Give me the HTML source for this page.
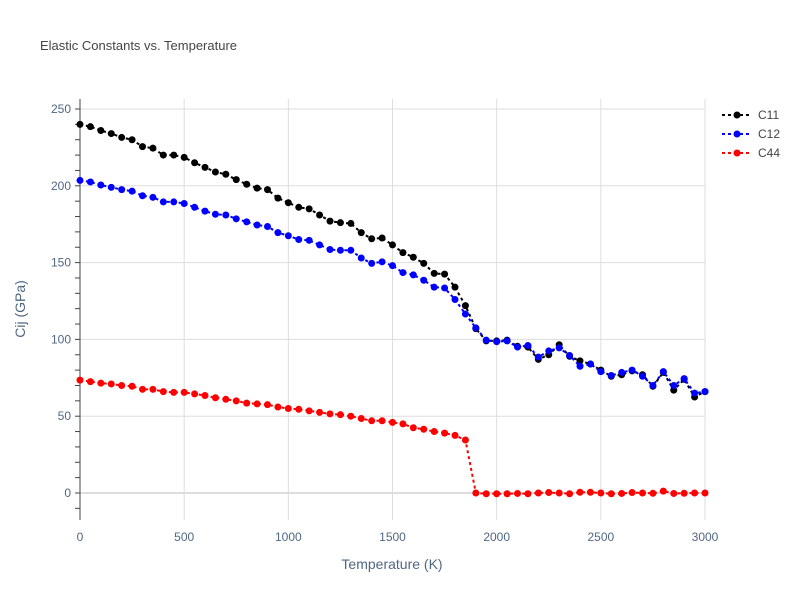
<!DOCTYPE html>
<html><head><meta charset="utf-8"><style>
body{margin:0;background:#fff;font-family:"Liberation Sans",sans-serif}
svg text{font-family:"Liberation Sans",sans-serif}
</style></head><body>
<svg id="chart" width="800" height="600">
<rect width="800" height="600" fill="#fff"/>
<text x="40" y="50" font-size="13" fill="#444">Elastic Constants vs. Temperature</text>
<g id="grid"></g>
<g id="axes"></g>
<g id="series"></g>
<text x="392" y="569" font-size="14" fill="#506784" text-anchor="middle">Temperature (K)</text>
<text transform="translate(25,309) rotate(-90)" font-size="14" fill="#506784" text-anchor="middle">Cij (GPa)</text>
<g id="legend"></g>
</svg>
<script>
const temps = Array.from({length:61},(_,i)=>i*50);
const c11 = [240,238.5,236,234,231.5,230,225.5,224.5,220,220,218.5,215,212,209,207.5,204,201,198.5,197.5,192,189,186,185,181,177,176,175.5,169.5,165.5,166,161.5,156.5,153.5,149.5,143,142.5,134,122,107,99,99,99.5,95.5,95,87,90,96.5,89,86,84,80,76,77,79.5,77,69.5,78.5,67,74,62.5,66];
const c12 = [203.5,202.5,200.5,199,197.5,196.5,193.5,192.5,189.5,189.5,188.5,186,183.5,181.5,181,178.5,176.5,174.5,173.5,169.5,167.5,165,164.5,161.5,158.5,158,158,153,149.5,150.5,148,143.5,142,138.5,134,133.5,126,116.5,107.5,99.5,98.5,99,95,96,88.5,92.5,94.5,89.5,82.5,84,79,76.5,78.5,80,76,70,79,70,74.5,65,66];
const c44 = [73.5,72.5,71.5,71,70,69.5,67.5,67.5,66,65.5,65.5,64.5,63.5,62,61,60,58.5,58,57.5,56,55,54.5,53.5,52.5,51.5,51,50,48.5,47,47,46,45,42.5,41.5,40,39,37.5,34.5,0,-0.5,-0.5,-0.5,-0.3,-0.5,0,0.3,0,-0.5,0.5,0.5,0,-0.5,-0.3,0.3,0,-0.2,1.2,-0.3,-0.2,0,0];
const xTicks = [0,500,1000,1500,2000,2500,3000];
const yTicks = [0,50,100,150,200,250];
const seriesNames = ['C11','C12','C44'];
const seriesColors = ['#000','#00f','#f00'];
const NS='http://www.w3.org/2000/svg';
const X0=80,X1=705,YT=99,YB=520;
const xs=v=>X0+(v/3000)*(X1-X0);
const ys=v=>493-v*1.536;
function mk(tag,attrs,parent){const e=document.createElementNS(NS,tag);for(const k in attrs)e.setAttribute(k,attrs[k]);parent.appendChild(e);return e;}
const grid=document.getElementById('grid'),axes=document.getElementById('axes');
xTicks.forEach(t=>{
 const l=mk('line',{x1:xs(t),x2:xs(t),y1:YT,y2:YB,stroke:t===0?'#444':'#ddd','stroke-width':1},grid);
 
 
 const tx=mk('text',{x:xs(t),y:541,'font-size':12,fill:'#506784','text-anchor':'middle'},axes);
 tx.textContent=t;
 
 
});
yTicks.forEach(t=>{
 const l=mk('line',{x1:X0,x2:X1,y1:ys(t),y2:ys(t),stroke:'#ddd','stroke-width':t===0?2:1},grid);
 
 
 const tx=mk('text',{x:71,y:ys(t)+4,'font-size':12,fill:'#506784','text-anchor':'end'},axes);
 tx.textContent=t;
 
 
});
for(let v=-10;v<=250;v+=10){const l=mk('line',{x1:75,x2:80,y1:ys(v),y2:ys(v),stroke:'#444'},axes);}
const ya=mk('line',{x1:X0,x2:X0,y1:YT,y2:YB,stroke:'#444'},axes);


const sg=document.getElementById('series');
[c11,c12,c44].forEach((d,si)=>{
 const g=mk('g',{},sg);
 
 
 const p=mk('polyline',{points:d.map((v,i)=>xs(temps[i])+','+ys(v)).join(' '),fill:'none',stroke:seriesColors[si],'stroke-width':2,'stroke-dasharray':'3,3'},g);
 
 
 d.forEach((v,i)=>{const c=mk('circle',{cx:xs(temps[i]),cy:ys(v),r:3.5,fill:seriesColors[si]},g);
  
  });
});
const lg=document.getElementById('legend');
seriesNames.forEach((n,i)=>{
 const y=115+i*19;
 const g=mk('g',{},lg);
 
 
 mk('line',{x1:722,x2:752,y1:y,y2:y,stroke:seriesColors[i],'stroke-width':2,'stroke-dasharray':'3,3'},g);
 mk('circle',{cx:737,cy:y,r:3.5,fill:seriesColors[i]},g);
 const t=mk('text',{x:758,y:y+4,'font-size':12,fill:'#444'},g);t.textContent=n;
});
</script>
</body></html>
